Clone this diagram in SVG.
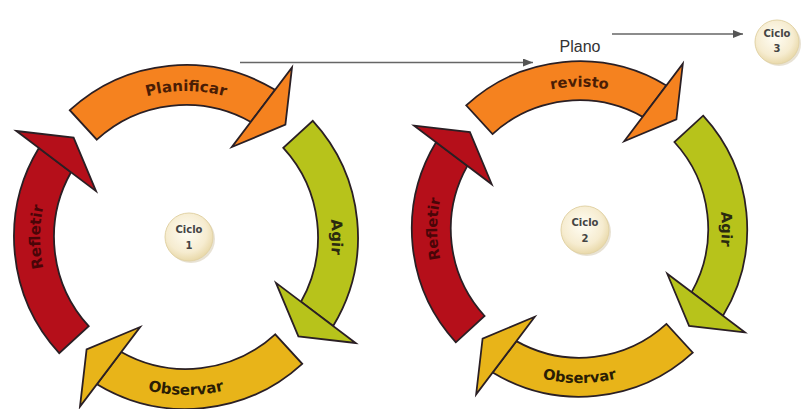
<svg xmlns="http://www.w3.org/2000/svg" xmlns:xlink="http://www.w3.org/1999/xlink" width="802" height="409" viewBox="0 0 802 409">
<style>
.body,.head{stroke:#2a1f24;stroke-width:1.8;stroke-linejoin:miter}
.orange{fill:#f5821f}
.green{fill:#b7c31b}
.gold{fill:#e8b419}
.red{fill:#b50f1a}
.lbl{font-family:"DejaVu Sans",Verdana,sans-serif;font-weight:bold;font-size:15px}
.ciclo{font-family:"DejaVu Sans",Verdana,sans-serif;font-weight:bold;font-size:10px;fill:#444;text-anchor:middle}
.disc{fill:url(#discGrad);stroke:#e2d3a6;stroke-width:1}
.shadow{fill:#d9cfb8;opacity:0.6}
.conn{stroke:#666;stroke-width:1.3;fill:none}
.plano{font-family:"Liberation Sans",Arial,sans-serif;font-size:16px;fill:#333}
</style>
<defs>
<radialGradient id="discGrad" cx="0.45" cy="0.4" r="0.6">
<stop offset="0" stop-color="#fffdf4"/>
<stop offset="0.7" stop-color="#f6ecd0"/>
<stop offset="1" stop-color="#e9d9aa"/>
</radialGradient>
<marker id="ah" viewBox="0 0 10 8" refX="10" refY="4" markerWidth="10" markerHeight="8" markerUnits="userSpaceOnUse" orient="auto">
<path d="M0 0 L10 4 L0 8 Z" fill="#555"/>
</marker>
<path id="arBody" d="M -116.2 -126.8 A 172 172 0 0 1 89.05 -147.15 L 64.78 -115.01 A 132 132 0 0 0 -89.2 -97.3 Z"/>
<path id="arHead" d="M 106 -169.6 L 99.4 -112.4 L 45.9 -90 Z"/>
<path id="cwTop" d="M -146 0 A 146 146 0 0 1 146 0" fill="none"/>
<path id="ccwTop" d="M 158 0 A 158 158 0 0 0 -158 0" fill="none"/>
</defs>

<g id="connectors">
<line class="conn" x1="240" y1="62.5" x2="533" y2="62.5" marker-end="url(#ah)"/>
<line class="conn" x1="612" y1="34" x2="743" y2="34" marker-end="url(#ah)"/>
</g>

<g id="cycle1" transform="translate(186,237)">
<g id="c1-planificar">
<use href="#arBody" class="body orange"/>
<use href="#arHead" class="head orange"/>
<text class="lbl" fill="#4a1d05"><textPath href="#cwTop" startOffset="50%" text-anchor="middle">Planificar</textPath></text>
</g>
<g id="c1-agir" transform="rotate(90)">
<use href="#arBody" class="body green"/>
<use href="#arHead" class="head green"/>
<text class="lbl" fill="#2a2a10"><textPath href="#cwTop" startOffset="50%" text-anchor="middle">Agir</textPath></text>
</g>
<g id="c1-observar" transform="rotate(180)">
<use href="#arBody" class="body gold"/>
<use href="#arHead" class="head gold"/>
<text class="lbl" fill="#2a1d05"><textPath href="#ccwTop" startOffset="50%" text-anchor="middle">Observar</textPath></text>
</g>
<g id="c1-refletir" transform="rotate(270)">
<use href="#arBody" class="body red"/>
<use href="#arHead" class="head red"/>
<text class="lbl" fill="#4a0508"><textPath href="#cwTop" startOffset="50%" text-anchor="middle">Refletir</textPath></text>
</g>
</g>

<g id="cycle2" transform="translate(579.5,229) scale(0.975)">
<g id="c2-revisto">
<use href="#arBody" class="body orange"/>
<use href="#arHead" class="head orange"/>
<text class="lbl" fill="#4a1d05"><textPath href="#cwTop" startOffset="50%" text-anchor="middle">revisto</textPath></text>
</g>
<g id="c2-agir" transform="rotate(90)">
<use href="#arBody" class="body green"/>
<use href="#arHead" class="head green"/>
<text class="lbl" fill="#2a2a10"><textPath href="#cwTop" startOffset="50%" text-anchor="middle">Agir</textPath></text>
</g>
<g id="c2-observar" transform="rotate(180)">
<use href="#arBody" class="body gold"/>
<use href="#arHead" class="head gold"/>
<text class="lbl" fill="#2a1d05"><textPath href="#ccwTop" startOffset="50%" text-anchor="middle">Observar</textPath></text>
</g>
<g id="c2-refletir" transform="rotate(270)">
<use href="#arBody" class="body red"/>
<use href="#arHead" class="head red"/>
<text class="lbl" fill="#4a0508"><textPath href="#cwTop" startOffset="50%" text-anchor="middle">Refletir</textPath></text>
</g>
</g>

<g id="ciclo1">
<circle class="shadow" cx="191" cy="239" r="24"/>
<circle class="disc" cx="189" cy="237" r="24"/>
<text class="ciclo" x="189" y="233">Ciclo</text>
<text class="ciclo" x="189" y="249">1</text>
</g>
<g id="ciclo2">
<circle class="shadow" cx="587" cy="232" r="24"/>
<circle class="disc" cx="585" cy="230" r="24"/>
<text class="ciclo" x="585" y="226">Ciclo</text>
<text class="ciclo" x="585" y="242">2</text>
</g>
<g id="ciclo3">
<circle class="shadow" cx="779" cy="44" r="22"/>
<circle class="disc" cx="777" cy="42" r="22"/>
<text class="ciclo" x="777" y="37">Ciclo</text>
<text class="ciclo" x="777" y="52">3</text>
</g>

<g id="plano-label">
<text class="plano" x="580" y="52" text-anchor="middle">Plano</text>
</g>
</svg>
